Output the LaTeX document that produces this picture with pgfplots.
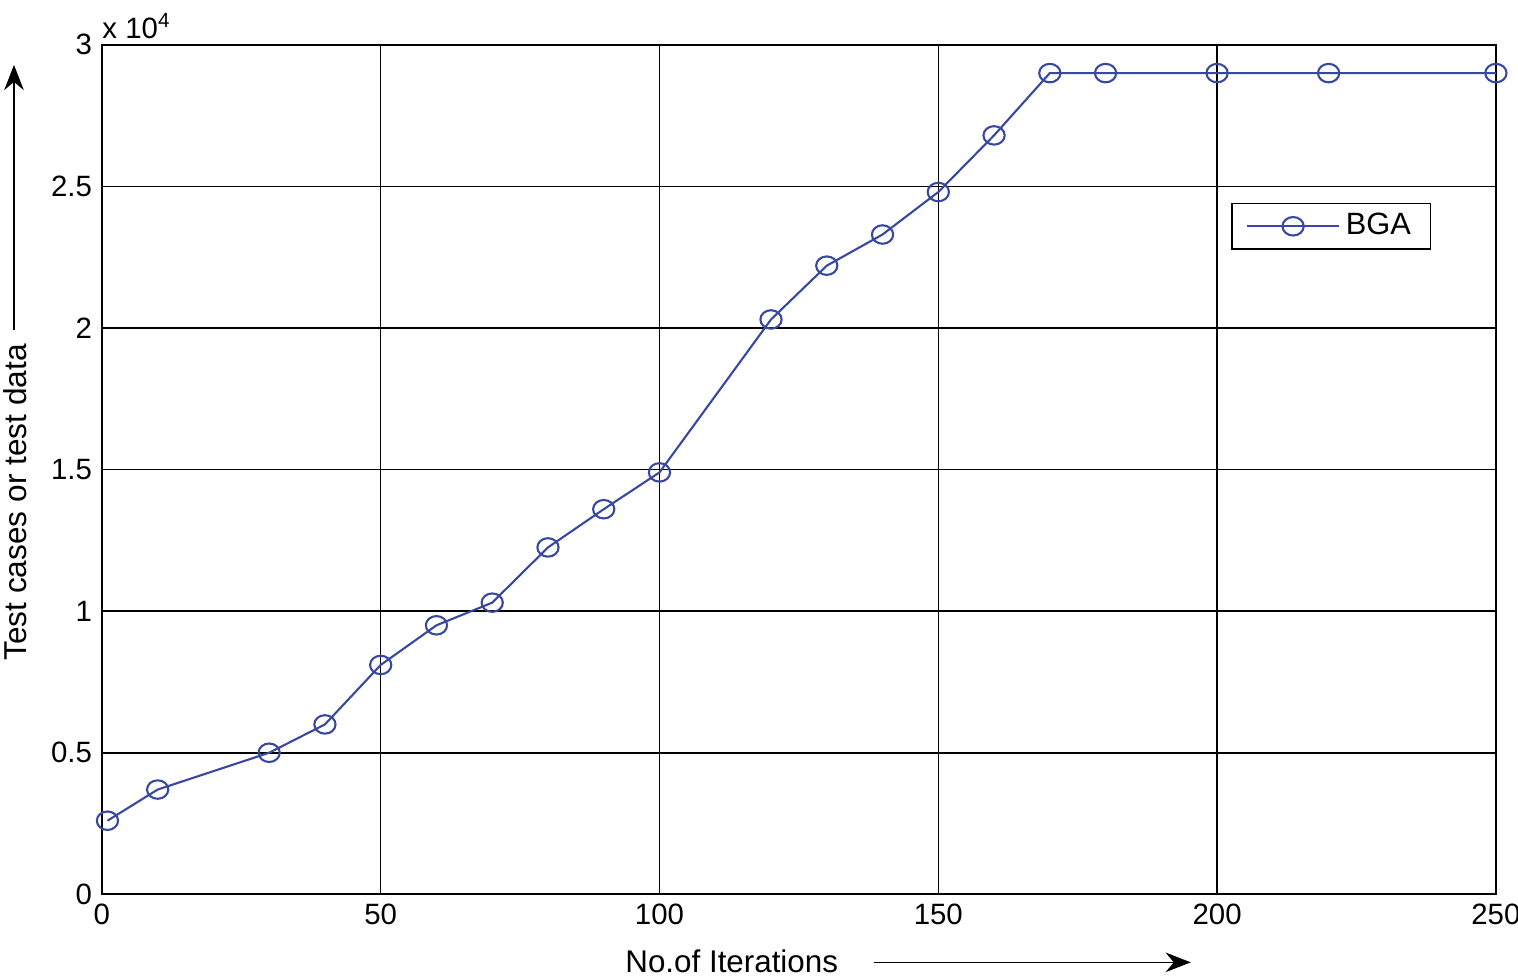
\documentclass[border=0pt]{standalone}
\usepackage{pgfplots}
\pgfplotsset{compat=1.18}
\usepackage{fontspec}
\setmainfont{Liberation Sans}
\usetikzlibrary{arrows.meta}
\definecolor{bgablue}{RGB}{56,72,160}
\begin{document}
\begin{tikzpicture}
\useasboundingbox (-36.4pt,-30pt) rectangle (505.9pt,319.5pt);
\begin{axis}[
  at={(0,0)}, anchor=south west,
  scale only axis,
  width=498pt, height=303.5pt,
  xmin=0, xmax=250, ymin=0, ymax=30000,
  xtick={0,50,...,250},
  ytick={0,5000,10000,15000,20000,25000,30000},
  scaled y ticks=base 10:-4,
  ytick scale label code/.code={x 10\textsuperscript{#1}},
  every y tick scale label/.style={at={(rel axis cs:0,1)}, anchor=south west, inner sep=1pt, xshift=-1pt, yshift=1pt},
  /pgf/number format/assume math mode=true,
  ticklabel style={font=\fontsize{10.5}{12}\selectfont},
  yticklabel style={/pgf/number format/fixed, /pgf/number format/precision=1},
  grid=major,
  major grid style={black, line width=0.55pt},
  axis line style={black, line width=0.8pt},
  major tick length=0pt,
  legend style={at={(rel axis cs:0.81,0.814)}, anchor=north west, draw=black, line width=0.6pt,
     font=\fontsize{11}{12}\selectfont, inner xsep=5pt, inner ysep=1.5pt},
  legend cell align=left,
  legend image code/.code={\draw[mark repeat=2,mark phase=2] plot coordinates {(0pt,0pt) (16.5pt,0pt) (33pt,0pt)};},
  legend style={/tikz/every even column/.append style={column sep=1pt}},
]
\addplot[color=bgablue, line width=0.75pt, mark=o, mark size=3.3pt, mark options={xscale=1.15, line width=0.75pt}]
coordinates {
(1,2600) (10,3700) (30,5000) (40,6000) (50,8100) (60,9500) (70,10300)
(80,12250) (90,13600) (100,14900) (120,20300) (130,22200) (140,23300)
(150,24800) (160,26800) (170,29000) (180,29000) (200,29000) (220,29000) (250,29000)
};
\addlegendentry{BGA}
\end{axis}
\node[rotate=90, font=\fontsize{11.3}{13}\selectfont] at (-31pt,140pt) {Test cases or test data};
\draw[-{Stealth[length=9pt,width=7pt]}, line width=0.5pt] (-31.4pt,201.7pt) -- (-31.4pt,296.3pt);
\node[font=\fontsize{11.2}{13}\selectfont] at (225pt,-24pt) {No.of Iterations};
\draw[-{Stealth[length=9pt,width=7pt]}, line width=0.5pt] (276pt,-24.3pt) -- (389pt,-24.3pt);
\end{tikzpicture}
\end{document}
